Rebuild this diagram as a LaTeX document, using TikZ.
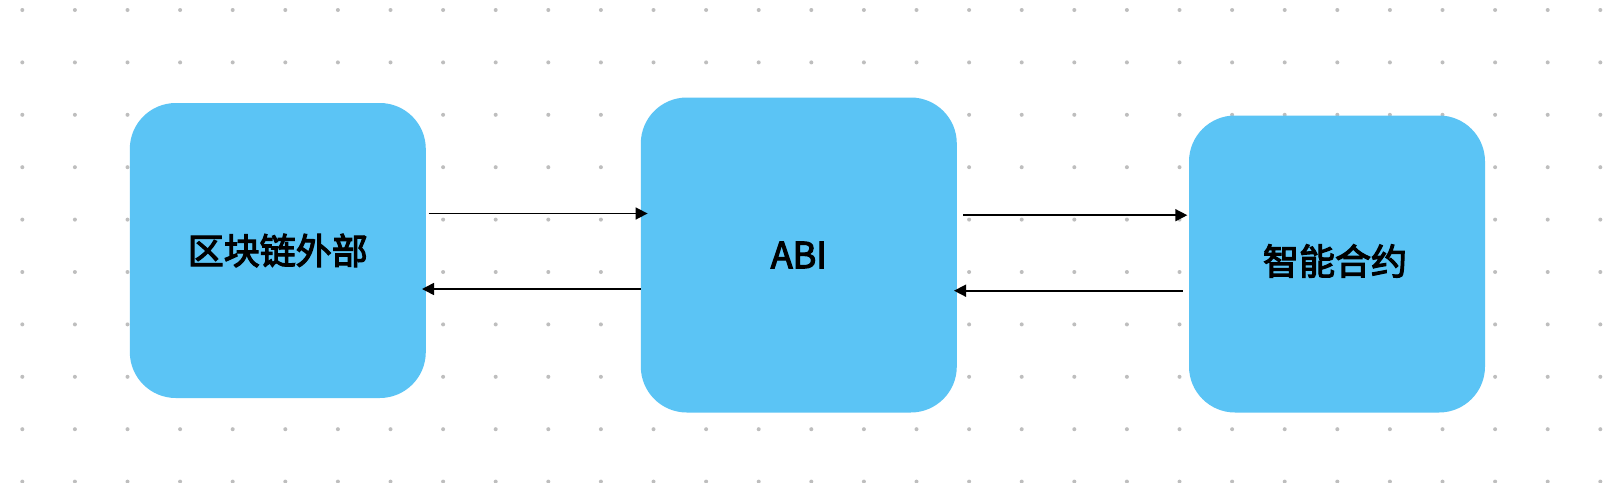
\documentclass[tikz,border=0pt]{standalone}
\usepackage{fontspec}
\newfontfamily\cjk[FakeBold=3.2]{Noto Sans CJK SC}
\usetikzlibrary{arrows.meta}
\definecolor{boxblue}{RGB}{91,196,245}
\definecolor{dotgray}{RGB}{190,190,190}
\tikzset{
  blockbox/.style={fill=boxblue, draw=none, rounded corners=46pt, inner sep=0pt,
    font=\cjk\fontsize{36}{40}\selectfont, text=black},
  arr/.style={draw=black, line width=1.6pt, -{Triangle[length=12pt,width=12pt]}},
}
\begin{document}
\begin{tikzpicture}[x=1pt,y=-1pt]
\useasboundingbox (0,0) rectangle (1620,482);
\fill[white] (0,0) rectangle (1620,482);
% dot grid
\foreach \i in {0,...,30}{
  \foreach \j in {0,...,9}{
    \fill[dotgray] (22.3+52.6*\i, 10+52.4*\j) circle (2);
  }
}
% boxes
\node[blockbox, minimum width=296pt, minimum height=295pt] (ext) at (277.8,250.5) {区块链外部};
\node[blockbox, minimum width=316pt, minimum height=315pt] (abi) at (798.8,255) {ABI};
\node[blockbox, minimum width=296pt, minimum height=297pt] (sc) at (1337,264) {};
\node[font=\cjk\fontsize{36}{40}\selectfont] (sct) at (1335,261) {智能合约};
% arrows
\draw[arr, shorten <=2.7pt, shorten >=-7pt] (ext.east |- 0,213.5) -- (abi.west |- 0,213.5);
\draw[arr, shorten >=-4pt] (abi.west |- 0,289) -- (ext.east |- 0,289);
\draw[arr, shorten <=6pt, shorten >=1.5pt] (abi.east |- 0,215.2) -- (sc.west |- 0,215.2);
\draw[arr, shorten <=6pt, shorten >=-3pt] (sc.west |- 0,290.7) -- (abi.east |- 0,290.7);
\end{tikzpicture}
\end{document}
